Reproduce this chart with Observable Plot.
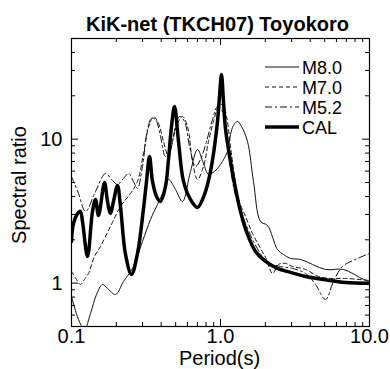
<!DOCTYPE html>
<html>
<head>
<meta charset="utf-8">
<script src="https://cdn.jsdelivr.net/npm/d3@7"></script>
<script src="https://cdn.jsdelivr.net/npm/@observablehq/plot@0.6"></script>
<style>
  html, body { margin: 0; padding: 0; background: #fff; }
  #chart { width: 390px; height: 369px; }
</style>
</head>
<body>
<div id="chart"></div>
<script>
const titleText = "KiK-net (TKCH07) Toyokoro";
const xLabel = "Period(s)";
const yLabel = "Spectral ratio";
const seriesNames = ["M8.0", "M7.0", "M5.2", "CAL"];

const xMajor = [0.1, 1, 10];
const xTickLabels = ["0.1", "1.0", "10.0"];
const xMinor = [0.2, 0.3, 0.4, 0.5, 0.6, 0.7, 0.8, 0.9, 2, 3, 4, 5, 6, 7, 8, 9];
const yMajor = [1, 10];
const yTickLabels = ["1", "10"];
const yMinor = [0.6, 0.7, 0.8, 0.9, 2, 3, 4, 5, 6, 7, 8, 9, 20, 30, 40];

const periodsM80 = [0.1, 0.1114, 0.1222, 0.1341, 0.1472, 0.1615, 0.1744, 0.1974, 0.2234, 0.2567, 0.2995, 0.339, 0.3778, 0.4143, 0.4477, 0.4989, 0.5559, 0.629, 0.7007, 0.769, 0.8308, 0.9115, 1.0, 1.114, 1.167, 1.222, 1.301, 1.383, 1.518, 1.665, 1.856, 2.068, 2.413, 2.647, 2.95, 3.443, 5.066, 6.69, 9.115, 10];
const valuesM80 = [0.808, 0.5597, 0.477, 0.6161, 0.8346, 0.979, 0.919, 0.8346, 1.027, 1.265, 1.948, 2.77, 3.52, 4.335, 5.25, 4.474, 3.693, 5.97, 8.48, 6.78, 5.69, 5.97, 6.67, 8.21, 10.78, 12.45, 13.27, 12.25, 9.64, 5.085, 2.682, 2.516, 1.714, 1.582, 1.484, 1.461, 1.245, 1.245, 1.061, 1.027];

const periodsM70 = [0.1, 0.108, 0.1149, 0.1222, 0.13, 0.1427, 0.1565, 0.1827, 0.2132, 0.2489, 0.2773, 0.3043, 0.3288, 0.355, 0.3837, 0.4143, 0.4477, 0.4763, 0.5145, 0.5559, 0.6004, 0.6487, 0.7007, 0.769, 0.8308, 0.8975, 0.9696, 1.0314, 1.0972, 1.167, 1.2417, 1.3207, 1.4723, 1.64, 1.856, 2.036, 2.234, 2.451, 2.731, 3.043, 3.72, 4.547, 5.474, 6.9, 10];
const valuesM70 = [1.206, 1.061, 0.979, 1.061, 1.168, 1.532, 1.798, 2.476, 3.409, 4.197, 5.085, 7.96, 12.06, 14.38, 12.85, 9.64, 7.58, 9.64, 12.85, 14.38, 12.25, 7.0, 5.25, 6.46, 9.64, 13.27, 16.87, 17.42, 14.38, 8.9, 5.51, 3.813, 2.905, 2.214, 1.742, 1.461, 1.168, 1.349, 1.37, 1.306, 1.245, 1.113, 1.078, 1.078, 1.044];

const periodsM52 = [0.1, 0.1114, 0.1242, 0.1449, 0.1691, 0.1855, 0.2036, 0.2234, 0.2413, 0.2607, 0.2773, 0.2995, 0.3237, 0.3443, 0.3662, 0.3957, 0.4274, 0.4618, 0.4989, 0.5306, 0.5735, 0.6195, 0.6798, 0.7343, 0.8054, 0.8839, 0.9548, 1.0155, 1.08, 1.149, 1.222, 1.3207, 1.4723, 1.665, 1.914, 2.165, 2.528, 3.043, 3.72, 4.34, 5.066, 5.73, 6.59, 8.05, 10];
const valuesM52 = [5.51, 4.197, 3.147, 4.335, 5.78, 5.25, 4.85, 5.34, 5.78, 5.085, 4.546, 6.46, 11.68, 13.92, 13.7, 10.44, 7.58, 8.48, 12.25, 14.38, 13.27, 8.9, 6.46, 7.23, 9.64, 13.7, 16.87, 16.08, 11.31, 7.0, 4.694, 3.409, 2.597, 1.948, 1.532, 1.37, 1.306, 1.265, 1.168, 0.979, 0.7705, 1.027, 1.306, 1.461, 1.608];

const periodsCAL = [0.1, 0.1031, 0.1114, 0.1149, 0.1185, 0.1281, 0.1383, 0.1449, 0.1518, 0.1665, 0.1744, 0.1827, 0.1913, 0.2036, 0.2132, 0.2304, 0.2528, 0.2773, 0.3043, 0.3187, 0.3339, 0.3497, 0.372, 0.3957, 0.4274, 0.4477, 0.469, 0.4913, 0.5226, 0.5646, 0.629, 0.7007, 0.7809, 0.8568, 0.9115, 0.9548, 0.9846, 1.0155, 1.047, 1.08, 1.167, 1.261, 1.362, 1.518, 1.718, 2.005, 2.413, 2.95, 3.72, 4.913, 6.9, 10];
const valuesCAL = [1.948, 2.597, 3.097, 3.147, 2.682, 1.532, 3.147, 3.813, 2.952, 5.004, 3.693, 3.048, 3.693, 4.77, 3.409, 1.582, 1.149, 1.608, 3.302, 5.085, 7.58, 5.085, 4.0, 3.693, 4.694, 7.23, 12.25, 16.87, 9.64, 5.085, 3.813, 3.355, 4.13, 5.97, 8.9, 13.27, 19.79, 28.13, 18.27, 11.87, 7.0, 4.546, 3.147, 2.179, 1.66, 1.415, 1.265, 1.187, 1.113, 1.061, 1.011, 1.0];

const toRows = (ps, vs) => ps.map((p, i) => ({period: p, value: vs[i]}));
const rowsM80 = toRows(periodsM80, valuesM80);
const rowsM70 = toRows(periodsM70, valuesM70);
const rowsM52 = toRows(periodsM52, valuesM52);
const rowsCAL = toRows(periodsCAL, valuesCAL);

const W = 390, H = 369, mT = 38, mB = 43, mL = 71, mR = 21;
const fw = W - mL - mR, fh = H - mT - mB;
const font = "'Liberation Sans', Arial, Helvetica, sans-serif";
const majorLen = 7, minorLen = 4;
const fs = 20;

const styles = {
  "M8.0": {stroke: "#111", strokeWidth: 1},
  "M7.0": {stroke: "#111", strokeWidth: 1, strokeDasharray: "4,3"},
  "M5.2": {stroke: "#111", strokeWidth: 1, strokeDasharray: "7,3,2,3"},
  "CAL": {stroke: "#000", strokeWidth: 3.5}
};

const lineOpts = (name) => ({x: "period", y: "value", curve: "catmull-rom", clip: true, ...styles[name]});

const plot = Plot.plot({
  width: W, height: H,
  marginTop: mT, marginBottom: mB, marginLeft: mL, marginRight: mR,
  style: {fontFamily: font, background: "#fff", color: "#000"},
  x: {type: "log", domain: [0.1, 10], axis: null},
  y: {type: "log", domain: [0.5, 50], axis: null},
  marks: [
    Plot.line(rowsM80, lineOpts("M8.0")),
    Plot.line(rowsM70, lineOpts("M7.0")),
    Plot.line(rowsM52, lineOpts("M5.2")),
    Plot.line(rowsCAL, lineOpts("CAL")),
    Plot.tickX(xMinor, {x: d => d, insetTop: fh - minorLen, stroke: "#000"}),
    Plot.tickX(xMinor, {x: d => d, insetBottom: fh - minorLen, stroke: "#000"}),
    Plot.tickX(xMajor, {x: d => d, insetTop: fh - majorLen, stroke: "#000"}),
    Plot.tickX(xMajor, {x: d => d, insetBottom: fh - majorLen, stroke: "#000"}),
    Plot.tickY(yMinor, {y: d => d, insetRight: fw - minorLen, stroke: "#000"}),
    Plot.tickY(yMinor, {y: d => d, insetLeft: fw - minorLen, stroke: "#000"}),
    Plot.tickY(yMajor, {y: d => d, insetRight: fw - majorLen, stroke: "#000"}),
    Plot.tickY(yMajor, {y: d => d, insetLeft: fw - majorLen, stroke: "#000"}),
    Plot.frame({stroke: "#000", strokeWidth: 1.2}),
    Plot.text(xMajor, {x: d => d, text: (d, i) => xTickLabels[i], frameAnchor: "bottom", lineAnchor: "top", dy: 2, fontSize: fs, fill: "#000"}),
    Plot.text(yMajor, {y: d => d, text: (d, i) => yTickLabels[i], frameAnchor: "left", textAnchor: "end", lineAnchor: "middle", dx: -9, fontSize: fs, fill: "#000"}),
    Plot.text([xLabel], {frameAnchor: "bottom", lineAnchor: "middle", dy: 32, dx: -1, fontSize: fs, fill: "#000"}),
    Plot.text([titleText], {frameAnchor: "top", lineAnchor: "middle", dy: -14, dx: -3, fontSize: 20, fontWeight: "bold", fill: "#000"})
  ]
});

document.getElementById("chart").appendChild(plot);

const svg = d3.select(plot);

// y-axis title
svg.append("text")
  .attr("transform", "translate(19,185) rotate(-90)")
  .attr("text-anchor", "middle")
  .attr("dy", "0.35em")
  .attr("font-family", font)
  .attr("font-size", fs)
  .attr("fill", "#000")
  .text(yLabel);

// legend
const lg = svg.append("g")
  .attr("font-family", font)
  .attr("font-size", 18)
  .attr("text-anchor", "start");
const legendY = [67, 87, 107, 127];
seriesNames.forEach((name, i) => {
  const s = styles[name];
  lg.append("line")
    .attr("x1", 265).attr("x2", 299)
    .attr("y1", legendY[i]).attr("y2", legendY[i])
    .attr("stroke", s.stroke).attr("stroke-width", s.strokeWidth)
    .attr("stroke-dasharray", s.strokeDasharray || null);
  lg.append("text")
    .attr("x", 302).attr("y", legendY[i] + 6.5)
    .attr("text-anchor", "start")
    .attr("fill", "#000")
    .text(name);
});
</script>
</body>
</html>
